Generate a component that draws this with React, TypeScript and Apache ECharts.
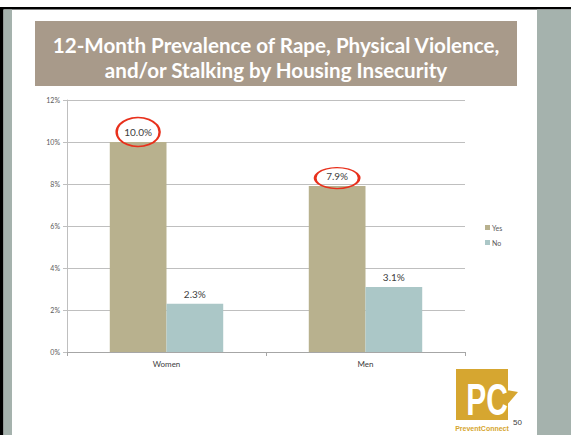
import React, { useEffect, useRef } from "react";
import * as echarts from "echarts";

const categories = ["Women", "Men"];
const yesValues = [10.0, 7.9];
const noValues = [2.3, 3.1];
const seriesNames = ["Yes", "No"];
const titleLines = [
  "12-Month Prevalence of Rape, Physical Violence,",
  "and/or Stalking by Housing Insecurity",
];
const pageNumber = "50";

export default function App() {
  const ref = useRef<HTMLDivElement>(null);
  useEffect(() => {
    if (!ref.current) return;
    const chart = echarts.init(ref.current, null, { renderer: "svg" });
    const option: any = {
      animation: false,
      backgroundColor: "#ffffff",
      textStyle: { fontFamily: "Lato, 'Open Sans', sans-serif" },
      grid: { left: 67, right: 106, top: 100, bottom: 83, containLabel: false },
      legend: {
        orient: "vertical",
        left: 480,
        top: 219,
        itemWidth: 5,
        itemHeight: 5,
        itemGap: 8,
        icon: "rect",
        data: seriesNames,
        textStyle: { fontSize: 7, color: "#595959", padding: [0, 0, 0, -3] },
      },
      xAxis: {
        type: "category",
        data: categories,
        axisLine: { show: true, lineStyle: { color: "#a6a6a6", width: 1 } },
        axisTick: { show: true, length: 4, lineStyle: { color: "#a6a6a6" } },
        axisLabel: { fontSize: 8, color: "#404040", margin: 8 },
      },
      yAxis: {
        type: "value",
        min: 0,
        max: 12,
        interval: 2,
        axisLine: { show: true, lineStyle: { color: "#bfbfbf", width: 1 } },
        axisTick: { show: true, length: 4, lineStyle: { color: "#bfbfbf" } },
        axisLabel: {
          fontSize: 7,
          color: "#595959",
          margin: 7,
          formatter: (v: number) => `${v}%`,
        },
        splitLine: { show: true, lineStyle: { color: "#bfbfbf", width: 1 } },
      },
      series: [
        {
          name: seriesNames[0],
          type: "bar",
          data: yesValues,
          barGap: "0%",
          barCategoryGap: "43%",
          itemStyle: { color: "#b8b18e" },
          label: {
            show: true,
            position: "top",
            distance: 5,
            fontSize: 10,
            color: "#404040",
            formatter: (p: any) => `${p.value.toFixed(1)}%`,
          },
          markPoint: {
            symbol: "circle",
            silent: true,
            label: { show: false },
            itemStyle: { color: "rgba(0,0,0,0)", borderColor: "#e8301c", borderWidth: 2 },
            data: [
              { coord: [0, yesValues[0]], symbolSize: [43, 29], symbolOffset: [0, -10] },
              { coord: [1, yesValues[1]], symbolSize: [44, 21], symbolOffset: [0, -8] },
            ],
          },
        },
        {
          name: seriesNames[1],
          type: "bar",
          data: noValues,
          barGap: "0%",
          barCategoryGap: "43%",
          itemStyle: { color: "#abc7c7" },
          label: {
            show: true,
            position: "top",
            distance: 5,
            fontSize: 10,
            color: "#404040",
            formatter: (p: any) => `${p.value.toFixed(1)}%`,
          },
        },
      ],
      graphic: [
        { type: "rect", z: -10, shape: { x: 0, y: 7, width: 571, height: 2.5 }, style: { fill: "#000000" } },
        { type: "rect", z: -10, shape: { x: 0, y: 7, width: 3.5, height: 428 }, style: { fill: "#000000" } },
        { type: "rect", z: -10, shape: { x: 3.5, y: 9.5, width: 8.5, height: 426 }, style: { fill: "#a5b2ad" } },
        { type: "rect", z: -10, shape: { x: 537, y: 9.5, width: 34, height: 426 }, style: { fill: "#a5b2ad" } },
        { type: "rect", z: -10, shape: { x: 35, y: 21, width: 482, height: 65 }, style: { fill: "#a89a8a" } },
        {
          type: "text",
          x: 276,
          y: 45,
          style: {
            text: titleLines[0],
            fill: "#ffffff",
            font: "bold 20.6px Lato, 'Open Sans', sans-serif",
            align: "center",
            verticalAlign: "middle",
          },
        },
        {
          type: "text",
          x: 276,
          y: 70,
          style: {
            text: titleLines[1],
            fill: "#ffffff",
            font: "bold 20.6px Lato, 'Open Sans', sans-serif",
            align: "center",
            verticalAlign: "middle",
          },
        },
        // logo
        { type: "rect", shape: { x: 456, y: 369, width: 52, height: 51 }, style: { fill: "#d6a630" } },
        { type: "polygon", shape: { points: [[506, 390], [518, 392], [506, 406]] }, style: { fill: "#d6a630" } },
        {
          type: "text",
          x: 487,
          y: 399,
          scaleY: 1.5,
          style: {
            text: "PC",
            fill: "#ffffff",
            font: "bold 30px 'Liberation Sans', Arial, sans-serif",
            align: "center",
            verticalAlign: "middle",
          },
        },
        {
          type: "text",
          x: 482,
          y: 428,
          style: {
            text: "PreventConnect",
            fill: "#d6a630",
            font: "bold 7px 'Liberation Sans', Arial, sans-serif",
            align: "center",
            verticalAlign: "middle",
          },
        },
        {
          type: "text",
          x: 513,
          y: 422,
          style: {
            text: pageNumber,
            fill: "#404040",
            font: "8px 'Liberation Sans', Arial, sans-serif",
            align: "left",
            verticalAlign: "middle",
          },
        },
      ],
    };
    chart.setOption(option);
    return () => chart.dispose();
  }, []);
  return (
    <div
      ref={ref}
      style={{ position: "absolute", left: 0, top: 0, width: 571, height: 435 }}
    />
  );
}
